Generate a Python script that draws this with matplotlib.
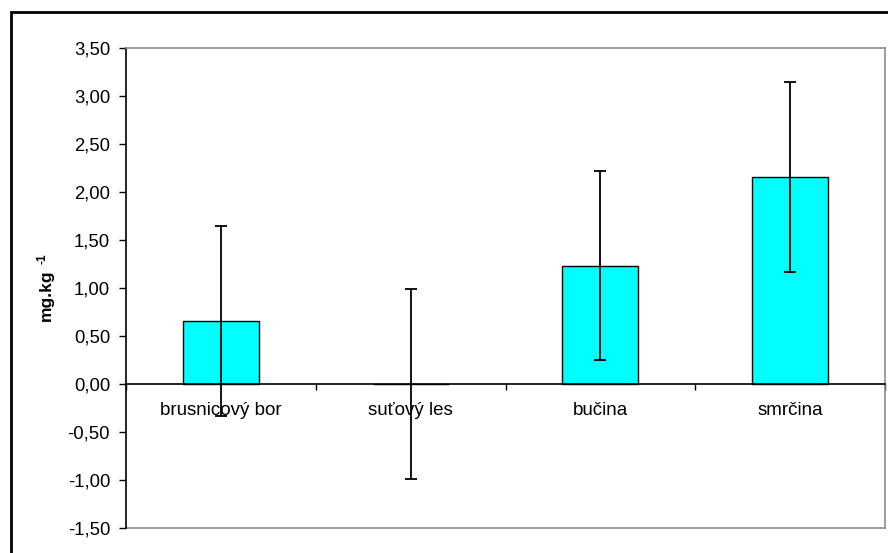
import matplotlib
matplotlib.use("Agg")
import matplotlib.pyplot as plt
from matplotlib.patches import Rectangle

plt.rcParams['font.family'] = ['Liberation Sans', 'DejaVu Sans']

# Mean concentrations by forest type and their error ranges
categories = ["brusnicový bor", "suťový les", "bučina", "smrčina"]
means = [0.66, 0.0, 1.23, 2.16]
errors = [0.99, 0.985, 0.985, 0.99]
y_ticks = [-1.5, -1.0, -0.5, 0.0, 0.5, 1.0, 1.5, 2.0, 2.5, 3.0, 3.5]
unit_base = "mg.kg"
unit_exp = "-1"

W, H = 888, 553
fig = plt.figure(figsize=(W / 100, H / 100), dpi=100)
ax = fig.add_axes([126 / W, 1 - 528 / H, (885 - 126) / W, (528 - 48) / H])

x = list(range(len(categories)))
ax.bar(x, means, width=0.4, color="#00FFFF", edgecolor="black", linewidth=1.0, zorder=2)
ax.errorbar(x, means, yerr=errors, fmt="none", ecolor="black", elinewidth=1.3,
            capsize=4, capthick=1.3, zorder=3)

ax.set_xlim(-0.5, len(categories) - 0.5)
ax.set_ylim(y_ticks[0], y_ticks[-1])
ax.set_yticks(y_ticks)
ax.set_yticklabels([f"{v:.2f}".replace(".", ",") for v in y_ticks], fontsize=13.3)
ax.tick_params(axis="y", direction="out", length=5, width=1, pad=6.5, colors="black")

# Category axis runs along zero; boundary ticks point down, names sit below
ax.spines["bottom"].set_position(("data", 0))
ax.spines["bottom"].set_color("black")
ax.spines["bottom"].set_linewidth(1.2)
ax.spines["left"].set_color("black")
ax.spines["left"].set_linewidth(1.2)
for side in ("top", "right"):
    ax.spines[side].set_color("#8c8c8c")
    ax.spines[side].set_linewidth(1.2)
ax.plot([0, 1], [0, 0], transform=ax.transAxes, color="#8c8c8c", lw=1.2,
        clip_on=False, zorder=1)

bounds = [i + 0.5 for i in range(-1, len(categories))]
ax.set_xticks(bounds)
ax.set_xticklabels([""] * len(bounds))
ax.set_xticks(x, minor=True)
ax.set_xticklabels(categories, minor=True, fontsize=13.5)
ax.tick_params(axis="x", which="major", direction="out", length=4, width=1)
ax.tick_params(axis="x", which="minor", length=0, pad=13)

# Vertical unit label with a raised exponent placed just past its end
base = fig.text(51 / W, 1 - 321 / H, unit_base, rotation=90, rotation_mode="anchor",
                ha="left", va="baseline", fontsize=12.5, fontweight="bold")
renderer = fig.canvas.get_renderer()
bb = base.get_window_extent(renderer)
fig.text(45.5 / W, (bb.y1 + 5) / H, unit_exp, rotation=90, rotation_mode="anchor",
         ha="left", va="baseline", fontsize=8.5, fontweight="bold")

# Outer chart frame
fig.patches.append(Rectangle((11 / W, -0.1), 1.2, 1 - 12 / H + 0.1,
                             transform=fig.transFigure, fill=False,
                             edgecolor="black", linewidth=2))

fig.savefig("out.png", dpi=100)
